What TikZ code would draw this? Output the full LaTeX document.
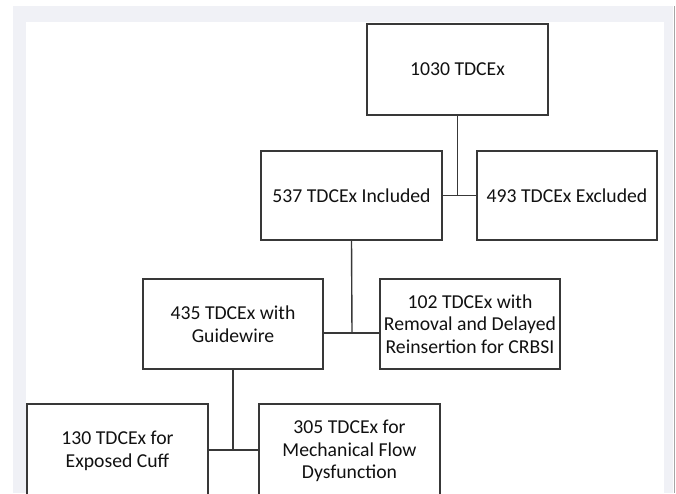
\documentclass[tikz,border=0pt]{standalone}
\usepackage{fontspec}
\setmainfont{Carlito}
\definecolor{framegray}{HTML}{F0F1F6}
\definecolor{linegray}{HTML}{383838}
\definecolor{textblack}{HTML}{111111}
\begin{document}
\begin{tikzpicture}[x=1pt,y=-1pt,
  box/.style={draw=linegray,line width=1.5pt,fill=white,rectangle,inner sep=0pt,
    align=center,text=textblack,font=\fontsize{19.7}{22.5}\selectfont},
  conn/.style={draw=linegray,line width=1.4pt}]
\useasboundingbox (0,0) rectangle (676,493);
\clip (0,0) rectangle (676,493);
% frame
\fill[framegray] (13,6) rectangle (673,493);
\fill[white] (26,22) rectangle (664,493);
\draw[draw=gray!70,line width=1.2pt] (674.5,6) -- (674.5,493);
% nodes
\node[box,minimum width=181pt,minimum height=91pt] (top) at (457.5,69.5) {1030 TDCEx};
\node[box,minimum width=181pt,minimum height=89pt] (incl) at (351.5,195.5) {537 TDCEx Included};
\node[box,minimum width=180pt,minimum height=89pt] (excl) at (567,195.5) {493 TDCEx Excluded};
\node[box,minimum width=180pt,minimum height=90pt] (guide) at (233,324) {435 TDCEx with\\Guidewire};
\node[box,minimum width=180pt,minimum height=90pt] (crbsi) at (470,324) {102 TDCEx with\\Removal and Delayed\\Reinsertion for CRBSI};
\node[box,minimum width=181pt,minimum height=94pt] (cuff) at (117.5,451) {130 TDCEx for\\Exposed Cuff};
\node[box,minimum width=181pt,minimum height=94pt] (mech) at (349.5,451) {305 TDCEx for\\Mechanical Flow\\Dysfunction};
% junctions
\coordinate (j1) at (top.south |- incl.east);
\coordinate (j2) at (352,333);
\coordinate (j3) at (233,450);
% connectors
\draw[conn] (top.south) -- (j1);
\draw[conn] (incl.east) -- (excl.west);
\draw[conn] (incl.south) -- (j2);
\draw[conn] (guide.east |- j2) -- (crbsi.west |- j2);
\draw[conn] (guide.south) -- (j3);
\draw[conn] (cuff.east |- j3) -- (mech.west |- j3);
\end{tikzpicture}
\end{document}
